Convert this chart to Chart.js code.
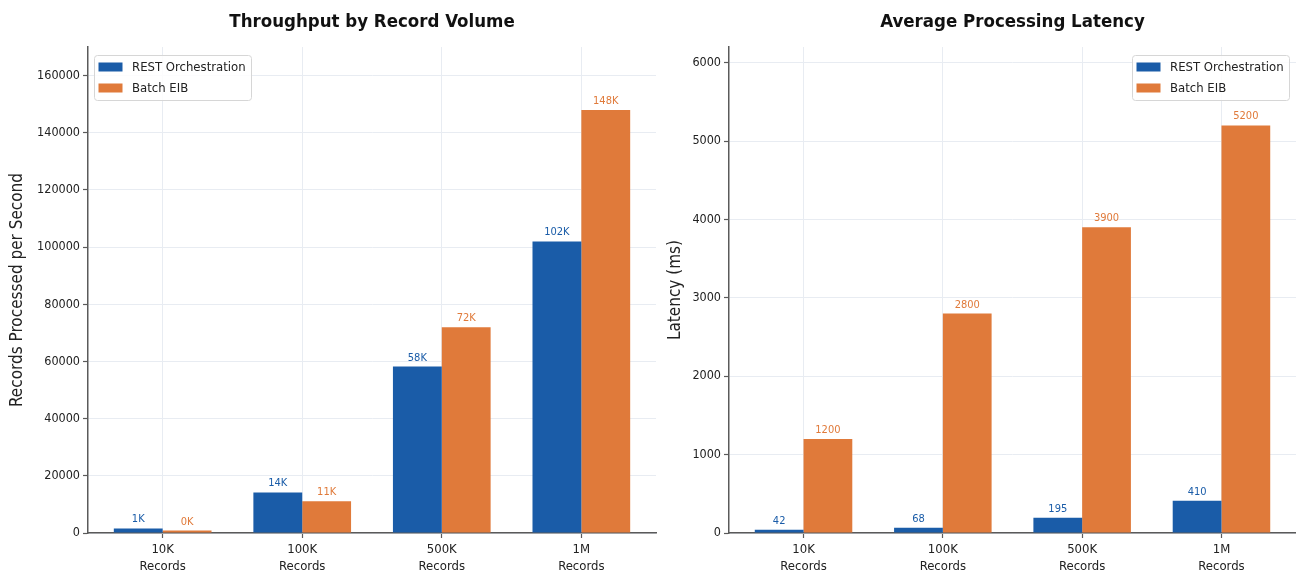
<!DOCTYPE html>
<html>
<head>
<meta charset="utf-8">
<script src="https://cdn.jsdelivr.net/npm/chart.js@4.4.1/dist/chart.umd.min.js"></script>
<style>
  html, body { margin: 0; padding: 0; background: #fff; }
  #wrap { position: relative; width: 1296px; height: 575px; overflow: hidden; background: #fff; }
  canvas { position: absolute; top: 0; }
  #throughput { left: 0; }
  #latency { left: 660px; }
</style>
</head>
<body>
<div id="wrap">
  <canvas id="throughput" width="660" height="575"></canvas>
  <canvas id="latency" width="636" height="575"></canvas>
</div>
<script>
// ---- data ----
const categories = [['10K', 'Records'], ['100K', 'Records'], ['500K', 'Records'], ['1M', 'Records']];
const seriesNames = ['REST Orchestration', 'Batch EIB'];

const throughputRest  = [1600, 14200, 58200, 102000];
const throughputBatch = [850, 11100, 72000, 148000];
const throughputTicks = [0, 20000, 40000, 60000, 80000, 100000, 120000, 140000, 160000];

const latencyRest  = [42, 68, 195, 410];
const latencyBatch = [1200, 2800, 3900, 5200];
const latencyTicks = [0, 1000, 2000, 3000, 4000, 5000, 6000];

// ---- styling ----
const FONT = "'DejaVu Sans Condensed', 'DejaVu Sans', sans-serif";
const BLUE = '#1a5ca8';
const ORANGE = '#e07a3a';
const GRID = '#e8ecf2';
const AXIS = '#5a5a5a';
const TEXT = '#222222';

Chart.defaults.font.family = FONT;

// per-chart formatting of the value labels (kept outside the options so they are not resolved as scriptable)
const valueFormats = {
  throughput: v => Math.floor(v / 1000) + 'K',
  latency: v => String(v)
};
const legendPlacement = {
  throughput: { side: 'left', inset: 7 },
  latency: { side: 'right', inset: 7 }
};

// value labels drawn above each bar in the series colour
const barValueLabels = {
  id: 'barValueLabels',
  afterDatasetsDraw(chart) {
    const fmt = valueFormats[chart.canvas.id];
    const ctx = chart.ctx;
    ctx.save();
    ctx.font = `11px ${FONT}`;
    ctx.textAlign = 'center';
    ctx.textBaseline = 'alphabetic';
    chart.data.datasets.forEach((ds, di) => {
      const meta = chart.getDatasetMeta(di);
      meta.data.forEach((bar, i) => {
        ctx.fillStyle = ds.backgroundColor;
        ctx.fillText(fmt(ds.data[i].y), bar.x, bar.y - 6);
      });
    });
    ctx.restore();
  }
};

// legend box placed inside the plot area
const insideLegend = {
  id: 'insideLegend',
  afterDraw(chart) {
    const place = legendPlacement[chart.canvas.id];
    const ctx = chart.ctx;
    const area = chart.chartArea;
    ctx.save();
    ctx.font = `13px ${FONT}`;
    const labels = chart.data.datasets.map(d => d.label);
    const textW = Math.max(...labels.map(t => ctx.measureText(t).width));
    const w = Math.round(38 + textW + 5);
    const h = 45;
    const x = Math.round(place.side === 'left' ? area.left + 6 : area.right - place.inset - w);
    const y = Math.round(area.top + 8);
    ctx.beginPath();
    ctx.roundRect(x + 0.5, y + 0.5, w, h, 3);
    ctx.fillStyle = 'rgba(255,255,255,0.85)';
    ctx.fill();
    ctx.strokeStyle = '#d6d6d6';
    ctx.lineWidth = 1;
    ctx.stroke();
    chart.data.datasets.forEach((ds, i) => {
      const cy = y + 12 + i * 21;
      ctx.fillStyle = ds.backgroundColor;
      ctx.fillRect(x + 4.5, cy - 4.5, 24, 9);
      ctx.fillStyle = TEXT;
      ctx.textBaseline = 'middle';
      ctx.textAlign = 'left';
      ctx.fillText(ds.label, x + 38, cy + 0.5);
    });
    ctx.restore();
  }
};

function makeChart(id, c) {
  return new Chart(document.getElementById(id), {
    type: 'bar',
    data: {
      datasets: [
        { label: seriesNames[0], data: c.rest.map((v, i) => ({ x: i, y: v })), backgroundColor: BLUE, borderWidth: 0 },
        { label: seriesNames[1], data: c.batch.map((v, i) => ({ x: i, y: v })), backgroundColor: ORANGE, borderWidth: 0 }
      ]
    },
    options: {
      responsive: false,
      devicePixelRatio: 1,
      animation: false,
      categoryPercentage: 0.7,
      barPercentage: 1.0,
      layout: { padding: { left: 0, right: c.padRight, top: 0, bottom: 0 } },
      plugins: {
        legend: { display: false },
        tooltip: { enabled: false },
        title: {
          display: true,
          text: c.title,
          fullSize: false,
          color: '#111',
          font: { size: 18.5, weight: 'bold' },
          padding: { top: 11, bottom: 13.8 }
        }
      },
      scales: {
        x: {
          type: 'linear',
          offset: false,
          min: -0.535,
          max: 3.535,
          afterBuildTicks(s) { s.ticks = categories.map((_, i) => ({ value: i })); },
          afterFit(s) { s.height = 42; },
          ticks: {
            callback: v => categories[v],
            color: TEXT,
            font: { size: 13, lineHeight: 1.3 },
            padding: 3,
            maxRotation: 0,
            autoSkip: false
          },
          grid: { offset: false, color: GRID, lineWidth: 1, tickColor: AXIS, tickLength: 5, tickWidth: 1.2 },
          border: { color: AXIS, width: 1.5 }
        },
        y: {
          min: 0,
          max: c.yMax,
          afterBuildTicks(s) { s.ticks = c.yTicks.map(v => ({ value: v })); },
          afterFit(s) { s.width = c.yWidth; },
          ticks: { callback: v => String(v), color: TEXT, font: { size: 12.5 }, padding: 3 },
          grid: { color: GRID, lineWidth: 1, tickColor: AXIS, tickLength: 5, tickWidth: 1.2 },
          border: { color: AXIS, width: 1.5 },
          title: {
            display: true,
            text: c.yTitle,
            color: TEXT,
            font: { size: 17 },
            padding: { top: c.yTitlePad, bottom: 0 }
          }
        }
      }
    },
    plugins: [barValueLabels, insideLegend]
  });
}

makeChart('throughput', {
  title: 'Throughput by Record Volume',
  yTitle: 'Records Processed per Second',
  rest: throughputRest,
  batch: throughputBatch,
  yMax: 170000,
  yTicks: throughputTicks,
  yWidth: 88,
  padRight: 4,
  yTitlePad: 7
});

makeChart('latency', {
  title: 'Average Processing Latency',
  yTitle: 'Latency (ms)',
  rest: latencyRest,
  batch: latencyBatch,
  yMax: 6200,
  yTicks: latencyTicks,
  yWidth: 69,
  padRight: 0,
  yTitlePad: 5
});
</script>
</body>
</html>
